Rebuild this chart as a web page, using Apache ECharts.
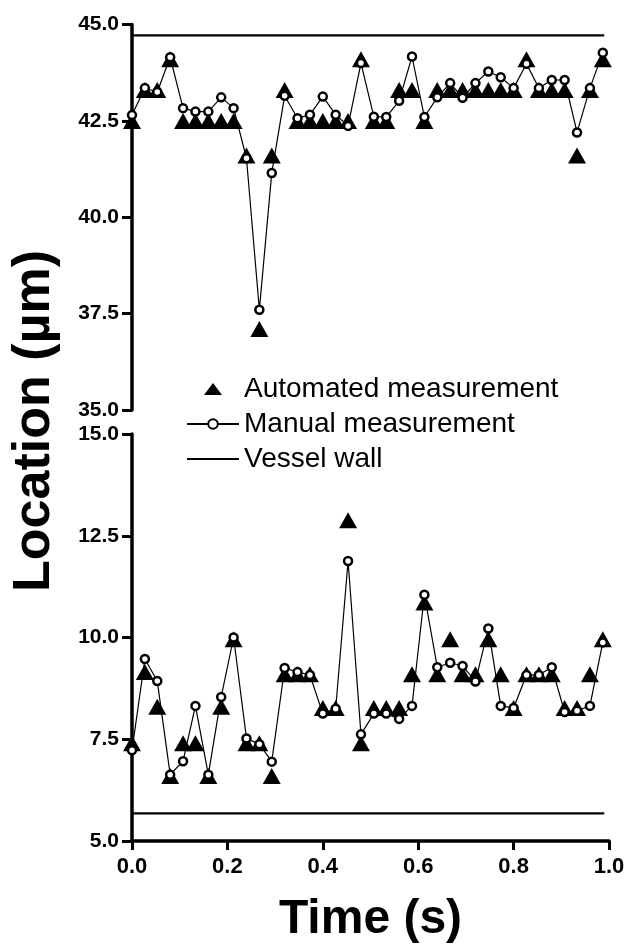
<!DOCTYPE html>
<html>
<head>
<meta charset="utf-8">
<script src="https://cdn.jsdelivr.net/npm/echarts@6/dist/echarts.min.js"></script>
<style>
html,body{margin:0;padding:0;background:#fff;}
#chart{width:628px;height:945px;}
</style>
</head>
<body>
<div id="chart"></div>
<script>
// Time (s) of each frame
const times = [0.000, 0.027, 0.053, 0.080, 0.107, 0.133, 0.160, 0.187, 0.213, 0.240,
               0.267, 0.293, 0.320, 0.347, 0.373, 0.400, 0.427, 0.453, 0.480, 0.507,
               0.533, 0.560, 0.587, 0.613, 0.640, 0.667, 0.693, 0.720, 0.747, 0.773,
               0.800, 0.827, 0.853, 0.880, 0.907, 0.933, 0.960, 0.987];

// Upper wall (µm)
const autoTop = [42.5, 43.3, 43.3, 44.1, 42.5, 42.5, 42.5, 42.5, 42.5, 41.6,
                 37.1, 41.6, 43.3, 42.5, 42.5, 42.5, 42.5, 42.5, 44.1, 42.5,
                 42.5, 43.3, 43.3, 42.5, 43.3, 43.3, 43.3, 43.3, 43.3, 43.3,
                 43.3, 44.1, 43.3, 43.3, 43.3, 41.6, 43.3, 44.1];
const manualTop = [42.65, 43.35, 43.25, 44.15, 42.83, 42.74, 42.74, 43.11, 42.83, 41.53,
                   37.6, 41.15, 43.15, 42.57, 42.66, 43.13, 42.66, 42.37, 44.0, 42.61,
                   42.6, 43.02, 44.17, 42.6, 43.11, 43.48, 43.1, 43.48, 43.78, 43.63,
                   43.35, 43.98, 43.35, 43.56, 43.56, 42.2, 43.35, 44.27];

// Lower wall (µm)
const autoBottom = [7.4, 9.15, 8.3, 6.6, 7.4, 7.4, 6.6, 8.3, 9.96, 7.4,
                    7.4, 6.6, 9.1, 9.1, 9.1, 8.27, 8.27, 12.88, 7.4, 8.27,
                    8.27, 8.27, 9.1, 10.86, 9.1, 9.96, 9.1, 9.1, 9.96, 9.1,
                    8.27, 9.1, 9.1, 9.1, 8.27, 8.27, 9.1, 9.96];
const manualBottom = [7.23, 9.47, 8.93, 6.63, 6.96, 8.32, 6.63, 8.54, 10.0, 7.52,
                      7.38, 6.95, 9.25, 9.15, 9.08, 8.13, 8.25, 11.88, 7.62, 8.13,
                      8.13, 8.0, 8.32, 11.05, 9.27, 9.38, 9.3, 8.92, 10.22, 8.32,
                      8.27, 9.08, 9.08, 9.27, 8.17, 8.2, 8.32, 9.88];

// Vessel wall positions
const wallX = [0, 0.99];
const wallTop = 44.72;
const wallBottom = 5.68;

const xTicks = [0, 0.2, 0.4, 0.6, 0.8, 1.0];
const yTicksTop = [35, 37.5, 40, 42.5, 45];
const yTicksBottom = [5, 7.5, 10, 12.5, 15];

const seriesNames = ['Automated measurement', 'Manual measurement', 'Vessel wall'];
const yTitle = 'Location (µm)';
const xTitle = 'Time (s)';

const pairs = (xs, ys) => xs.map((x, i) => [x, ys[i]]);
const FONT = '"Liberation Sans", Arial, sans-serif';

const chart = echarts.init(document.getElementById('chart'), null, {renderer: 'canvas'});

function yAxisCfg(grid, ticks) {
  return {
    type: 'value', gridIndex: grid,
    min: ticks[0], max: ticks[ticks.length - 1], interval: 2.5,
    axisLine: {show: true, lineStyle: {color: '#000', width: 3.5}},
    axisTick: {show: true, length: 10, lineStyle: {color: '#000', width: 3}},
    axisLabel: {color: '#000', fontFamily: FONT, fontWeight: 'bold', fontSize: 21, margin: 13,
      formatter: v => v.toFixed(1)},
    splitLine: {show: false}
  };
}

const triPath = 'path://M9,0 L18,12 L0,12 Z';

function autoSeries(x, y, ys) {
  return {
    name: seriesNames[0], type: 'scatter', xAxisIndex: x, yAxisIndex: y,
    data: pairs(times, ys), symbol: 'triangle', symbolSize: [18, 16],
    itemStyle: {color: '#000', opacity: 1}, z: 2, silent: true
  };
}
function manualSeries(x, y, ys) {
  return {
    name: seriesNames[1], type: 'line', xAxisIndex: x, yAxisIndex: y,
    data: pairs(times, ys), symbol: 'circle', symbolSize: 8, showAllSymbol: true,
    itemStyle: {color: '#fff', borderColor: '#000', borderWidth: 2.5, opacity: 1},
    lineStyle: {color: '#000', width: 1.2}, color: '#000', z: 3, silent: true
  };
}
function wallSeries(x, y, v) {
  return {
    name: seriesNames[2], type: 'line', xAxisIndex: x, yAxisIndex: y,
    data: wallX.map(t => [t, v]), symbol: 'none', color: '#000',
    itemStyle: {color: '#000'},
    lineStyle: {color: '#000', width: 2.2}, z: 1, silent: true
  };
}

const option = {
  animation: false,
  backgroundColor: '#fff',
  grid: [
    {left: 132, right: 19, top: 24.5, height: 385.5},
    {left: 132, right: 19, top: 434, height: 409}
  ],
  xAxis: [
    {type: 'value', gridIndex: 0, min: 0, max: 1, interval: 0.2, show: false},
    {type: 'value', gridIndex: 1, min: 0, max: 1, interval: 0.2,
      axisLine: {show: true, lineStyle: {color: '#000', width: 3.5}},
      axisTick: {show: true, length: 9, lineStyle: {color: '#000', width: 3}},
      axisLabel: {color: '#000', fontFamily: FONT, fontWeight: 'bold', fontSize: 22, margin: 15,
        formatter: v => v.toFixed(1)},
      splitLine: {show: false},
      name: xTitle, nameLocation: 'middle', nameGap: 55,
      nameTextStyle: {color: '#000', fontFamily: FONT, fontWeight: 'bold', fontSize: 48}
    }
  ],
  yAxis: [yAxisCfg(0, yTicksTop), yAxisCfg(1, yTicksBottom)],
  legend: {
    orient: 'vertical', left: 186, top: 375, padding: 0,
    itemWidth: 52, itemHeight: 12, itemGap: 7,
    selectedMode: false,
    textStyle: {color: '#000', fontFamily: FONT, fontSize: 28},
    data: [
      {name: seriesNames[0], icon: triPath},
      {name: seriesNames[1]},
      {name: seriesNames[2], icon: 'path://M0,0 L52,0 L52,2 L0,2 Z'}
    ]
  },
  graphic: [{
    type: 'text', x: 35, y: 421, rotation: Math.PI / 2,
    style: {text: yTitle, font: 'bold 52px ' + FONT, fill: '#000',
      textAlign: 'center', textVerticalAlign: 'middle'}
  }],
  series: [
    wallSeries(0, 0, wallTop),
    autoSeries(0, 0, autoTop),
    manualSeries(0, 0, manualTop),
    wallSeries(1, 1, wallBottom),
    autoSeries(1, 1, autoBottom),
    manualSeries(1, 1, manualBottom)
  ]
};
chart.setOption(option);
</script>
</body>
</html>
